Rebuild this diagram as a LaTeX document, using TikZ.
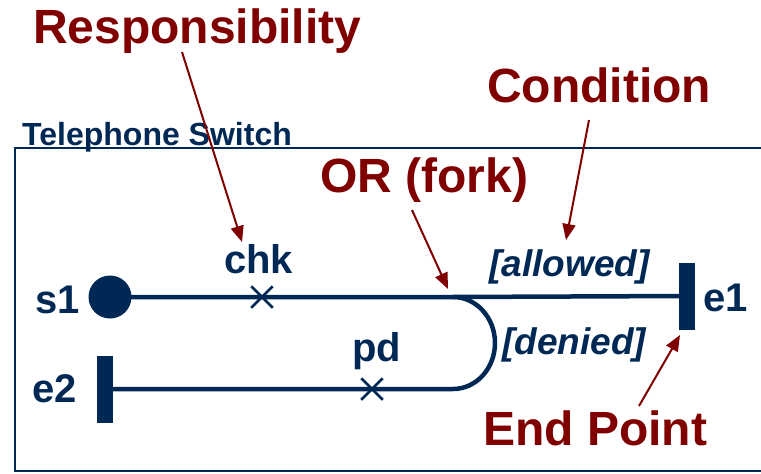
\documentclass[tikz,border=0pt]{standalone}
\usepackage{fontspec}
\setmainfont{Liberation Sans}
\usetikzlibrary{arrows.meta,shapes.misc}
\definecolor{navy}{RGB}{0,40,85}
\definecolor{maroon}{RGB}{128,0,0}
\begin{document}
\begin{tikzpicture}[x=1pt,y=-1pt,
  callout/.style={font=\fontsize{48}{48}\selectfont\bfseries, text=maroon, inner sep=0, anchor=base west},
  title/.style={font=\fontsize{32}{32}\selectfont\bfseries, text=navy, inner sep=0, anchor=base west},
  lbl/.style={font=\fontsize{40}{40}\selectfont\bfseries, text=navy, inner sep=0, anchor=base west},
  guard/.style={font=\fontsize{37}{37}\selectfont\bfseries\itshape, text=navy, inner sep=0, anchor=base west},
  flow/.style={draw=navy, line width=4.5pt},
  pointer/.style={draw=maroon, line width=2pt, -{Triangle[length=16pt,width=13pt]}},
  endbar/.style={fill=navy, minimum width=16pt, minimum height=67pt, inner sep=0, rectangle},
  xmark/.style={cross out, draw=navy, line width=2.5pt, minimum size=19pt, inner sep=0},
  startdot/.style={fill=navy, circle, minimum size=43pt, inner sep=0}]
\useasboundingbox (0,0) rectangle (761,474);
% frame
\draw[navy, line width=2.5pt] (765,148) -- (15,148) -- (15,471) -- (765,471);
% nodes
\node[startdot] (s1) at (110,297) {};
\node[endbar] (e1) at (687,296) {};
\node[endbar] (e2) at (105,389) {};
\coordinate (fork) at (453,297);
% flows
\draw[flow] (s1.center) -- (fork) -- (e1.center);
\draw[flow] (fork) arc[start angle=-90, end angle=90, x radius=42, y radius=46] -- (e2.center);
\node[xmark] (chk) at (262,297) {};
\node[xmark] (pd) at (372,389) {};
% labels
\node[title] (sw) at (22,145) {Telephone Switch};
\node[lbl] (chkl) at (224,273) {chk};
\node[lbl] (s1l) at (35,313) {s1};
\node[lbl] (e1l) at (703,311) {e1};
\node[lbl] (e2l) at (32,402) {e2};
\node[lbl] (pdl) at (352,361) {pd};
\node[guard] (allow) at (489,276) {[allowed]};
\node[guard] (deny) at (502,354) {[denied]};
% callouts
\node[callout] (resp) at (33,43) {Responsibility};
\node[callout] (cond) at (487,102) {Condition};
\node[callout] (orf) at (320,192) {OR (fork)};
\node[callout] (endp) at (483,445) {End Point};
\coordinate (r0) at (182,52);
\coordinate (r1) at (242,242);
\coordinate (c0) at (589,120);
\coordinate (c1) at (566,240);
\coordinate (o0) at (412,210);
\coordinate (o1) at (448,289);
\coordinate (p0) at (639,406);
\coordinate (p1) at (680,335);
\draw[pointer] (r0) -- (r1);
\draw[pointer] (c0) -- (c1);
\draw[pointer] (o0) -- (o1);
\draw[pointer] (p0) -- (p1);
\end{tikzpicture}
\end{document}
